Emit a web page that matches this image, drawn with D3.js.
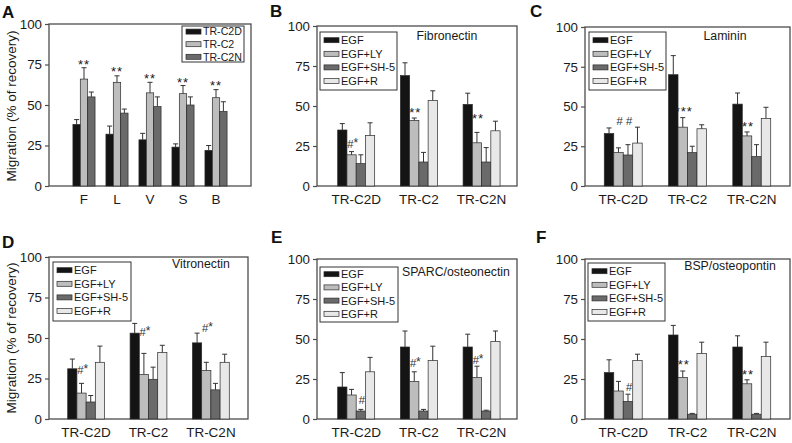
<!DOCTYPE html>
<html><head><meta charset="utf-8">
<script src="https://cdn.jsdelivr.net/npm/d3@7"></script>
<style>
body{margin:0;background:#fff}
svg{display:block}
text{font-family:"Liberation Sans",Arial,Helvetica,sans-serif}
</style>
</head><body>
<svg id="chart" width="792" height="443"></svg>
<script>
// ---------------- DATA ----------------
const matrices   = ["F","L","V","S","B"];
const cellLines  = ["TR-C2D","TR-C2","TR-C2N"];
const treatments = ["EGF","EGF+LY","EGF+SH-5","EGF+R"];
const yTicks     = [0,25,50,75,100];
const yLabel     = "Migration (% of recovery)";

// Panel A — migration on each matrix, per cell line (mean, SD)
const aC2D     = [38,32,28.5,24,22];
const aC2DErr  = [3,5,4,2,3];
const aC2      = [66,64,57.5,57,54.5];
const aC2Err   = [7,4,6.5,5,5];
const aC2N     = [55,45,49,50,46];
const aC2NErr  = [3,2.5,6,5,6];
const aMarks   = ["**","**","**","**","**"];   // over TR-C2
const aMarkAt  = [77,72.5,68.5,66,64];

// Panel B — Fibronectin (per cell line TR-C2D, TR-C2, TR-C2N)
const bEGF = [35,69,51],     bEGFErr = [4,8,7];
const bLY  = [19.5,41,27],   bLYErr  = [2,1.5,6.5];
const bSH5 = [14,15,15],     bSH5Err = [5.5,6,9];
const bR   = [31.5,53.5,34.5], bRErr = [8,6,6];

// Panel C — Laminin
const cEGF = [33,70,51.5],   cEGFErr = [3.5,12,7];
const cLY  = [21,37,31.5],   cLYErr  = [3,6,2.5];
const cSH5 = [19.5,21,18.5], cSH5Err = [6.5,4,7.5];
const cR   = [27,36,42.5],   cRErr   = [10,2.5,7];

// Panel D — Vitronectin
const dEGF = [31,53,47],     dEGFErr = [6,6,6];
const dLY  = [16,27.5,30],   dLYErr  = [6,13,5];
const dSH5 = [10.5,24.5,18], dSH5Err = [4,7.5,4];
const dR   = [35,41,35],     dRErr   = [10,4.5,5];

// Panel E — SPARC/osteonectin
const eEGF = [20,45,45],     eEGFErr = [9,10,8];
const eLY  = [15,23.5,26],   eLYErr  = [3.5,6,7];
const eSH5 = [5,5,5],        eSH5Err = [1,1,0.5];
const eR   = [29.5,36.5,48.5], eRErr = [9,9,6.5];

// Panel F — BSP/osteopontin
const fEGF = [29,52.5,45],   fEGFErr = [8,6,7];
const fLY  = [17.5,26,22],   fLYErr  = [6,4,2.5];
const fSH5 = [11,3,3],       fSH5Err = [4.5,0.5,0.5];
const fR   = [36.5,41,39],   fRErr   = [4,7,9];

// significance marks: [cell line, treatment, text, value at text centre]
const bMarks = [["TR-C2D","EGF+LY","#*",26],["TR-C2","EGF+LY","**",48],["TR-C2N","EGF+LY","**",44]];
const cMarks = [["TR-C2D","EGF+LY","#",41],["TR-C2D","EGF+SH-5","#",41],["TR-C2","EGF+LY","***",49],["TR-C2N","EGF+LY","**",39]];
const dMarks = [["TR-C2D","EGF+LY","#*",30],["TR-C2","EGF+LY","#*",54],["TR-C2N","EGF+LY","#*",56]];
const eMarks = [["TR-C2D","EGF+SH-5","#",12],["TR-C2","EGF+LY","#*",35],["TR-C2N","EGF+LY","#*",37]];
const fMarks = [["TR-C2D","EGF+SH-5","#",20],["TR-C2","EGF+LY","**",36],["TR-C2N","EGF+LY","**",29.5]];

const titles = {B:"Fibronectin",C:"Laminin",D:"Vitronectin",E:"SPARC/osteonectin",F:"BSP/osteopontin"};

// ---------------- STYLE / LAYOUT ----------------
const fillsA = {"TR-C2D":"#141414","TR-C2":"#bdbdbd","TR-C2N":"#6a6a6a"};
const fillsT = {"EGF":"#141414","EGF+LY":"#bdbdbd","EGF+SH-5":"#6a6a6a","EGF+R":"#e8e8e8"};

const lgBig = {fs:11,first:8.2,row:13.6};
const L = {
  A:{l:49,r:251,t:24,b:186,letter:[2,18],ylab:[11,106],lg:{x:182,y:26,w:62,h:36,fs:10.6,first:5.6,row:12.6},pi:0.33,po:0.725,align:0.5},
  B:{l:317,r:517,t:26,b:186,letter:[270,17],title:[447,40],lg:Object.assign({x:320,y:32,w:77,h:58},lgBig),pi:0.41,po:0.3,align:0.55},
  C:{l:585,r:790,t:27,b:186,letter:[530,17],title:[725,40],lg:Object.assign({x:589,y:32,w:77,h:58},lgBig),pi:0.41,po:0.3,align:0.5},
  D:{l:49,r:248,t:257,b:419,letter:[2,248],ylab:[11,338],title:[201,268],lg:Object.assign({x:53,y:262,w:78,h:59},lgBig),pi:0.41,po:0.3,align:0.5},
  E:{l:317,r:517,t:259,b:419,letter:[271,243],title:[456,276],lg:Object.assign({x:320,y:267,w:78,h:55},lgBig,{first:7.2,row:13.2}),pi:0.41,po:0.3,align:0.55},
  F:{l:585,r:790,t:259,b:419,letter:[536,243],title:[730,270],lg:Object.assign({x:588,y:263,w:77,h:58},lgBig),pi:0.41,po:0.3,align:0.5}
};

const svg = d3.select("#chart");

function frameAndAxes(g, P, y, x0, xLabelSize){
  g.append("rect").attr("x",P.l).attr("y",P.t).attr("width",P.r-P.l).attr("height",P.b-P.t)
    .attr("fill","none").attr("stroke","#4d4d4d").attr("stroke-width",1.3);
  const ya = g.append("g").attr("transform",`translate(${P.l},0)`)
    .call(d3.axisLeft(y).tickValues(yTicks).tickSize(4).tickPadding(3));
  ya.select(".domain").remove();
  ya.selectAll("line").attr("stroke","#4d4d4d").attr("stroke-width",1.2);
  ya.selectAll("text").attr("font-size",13.3).attr("fill","#1a1a1a").style("font-family","Liberation Sans, Arial, sans-serif");
  const xa = g.append("g").attr("transform",`translate(0,${P.b})`)
    .call(d3.axisBottom(x0).tickSize(0).tickPadding(8));
  xa.select(".domain").remove();
  xa.selectAll("text").attr("font-size",xLabelSize).attr("fill","#1a1a1a").style("font-family","Liberation Sans, Arial, sans-serif");
}

function drawBars(g, rows, x0, x1, y){
  g.selectAll(null).data(rows).join("rect")
    .attr("x",d=>x0(d.grp)+x1(d.key)).attr("width",x1.bandwidth())
    .attr("y",d=>y(d.v)).attr("height",d=>y(0)-y(d.v))
    .attr("fill",d=>d.fill).attr("stroke","#2a2a2a").attr("stroke-width",0.7);
  const eb = g.selectAll(null).data(rows).join("g");
  const cx = d=>x0(d.grp)+x1(d.key)+x1.bandwidth()/2;
  eb.append("line")
    .attr("x1",cx).attr("x2",cx)
    .attr("y1",d=>y(d.v)).attr("y2",d=>y(d.v+d.e)).attr("stroke","#333").attr("stroke-width",1);
  eb.append("line")
    .attr("x1",d=>cx(d)-2.5).attr("x2",d=>cx(d)+2.5)
    .attr("y1",d=>y(d.v+d.e)).attr("y2",d=>y(d.v+d.e)).attr("stroke","#333").attr("stroke-width",1);
}

function drawMark(g, x, yc, txt){
  if (/^\*+$/.test(txt)){
    g.append("text").attr("x",x).attr("y",yc+7.5).attr("text-anchor","middle")
      .attr("font-size",13).attr("fill","#1a1a1a").attr("letter-spacing",1).text(txt);
  } else if (txt === "#*"){
    const t = g.append("text").attr("x",x).attr("y",yc+4).attr("text-anchor","middle")
      .attr("font-size",11.5).attr("fill","#333");
    t.append("tspan").text("#").attr("font-style","italic");
    t.append("tspan").text("*").attr("font-size",12).attr("dy",-1);
  } else {
    g.append("text").attr("x",x).attr("y",yc+4).attr("text-anchor","middle")
      .attr("font-size",11.5).attr("font-style","italic").attr("fill","#333").text(txt);
  }
}

function drawLegend(g, P, keys, fills){
  const lg = P.lg;
  g.append("rect").attr("x",lg.x).attr("y",lg.y).attr("width",lg.w).attr("height",lg.h)
    .attr("fill","#fff").attr("stroke","#333").attr("stroke-width",1);
  keys.forEach((k,i)=>{
    const cy = lg.y+lg.first+lg.row*i;
    g.append("rect").attr("x",lg.x+4).attr("y",cy-2.5).attr("width",15).attr("height",5)
      .attr("fill",fills[k]).attr("stroke","#2a2a2a").attr("stroke-width",0.7);
    g.append("text").attr("x",lg.x+21).attr("y",cy+lg.fs*0.36).attr("font-size",lg.fs).attr("fill","#1a1a1a").text(k);
  });
}

function letter(P, s){
  svg.append("text").attr("x",P.letter[0]).attr("y",P.letter[1]).attr("font-size",17)
    .attr("font-weight","bold").attr("fill","#111").text(s);
}

function yLab(P){
  svg.append("text").attr("transform",`translate(${P.ylab[0]},${P.ylab[1]}) rotate(-90)`)
    .attr("text-anchor","middle").attr("dominant-baseline","central")
    .attr("font-size",13.5).attr("fill","#1a1a1a").text(yLabel);
}

// ---------- Panel A ----------
(function(){
  const P = L.A, g = svg.append("g");
  const y = d3.scaleLinear().domain([0,100]).range([P.b,P.t]);
  const x0 = d3.scaleBand().domain(matrices).range([P.l,P.r]).paddingInner(P.pi).paddingOuter(P.po).align(P.align);
  const x1 = d3.scaleBand().domain(cellLines).range([0,x0.bandwidth()]);
  const series = {"TR-C2D":[aC2D,aC2DErr],"TR-C2":[aC2,aC2Err],"TR-C2N":[aC2N,aC2NErr]};
  const rows = [];
  matrices.forEach((m,i)=>cellLines.forEach(c=>rows.push({grp:m,key:c,v:series[c][0][i],e:series[c][1][i],fill:fillsA[c]})));
  frameAndAxes(g,P,y,x0,13.5);
  drawBars(g,rows,x0,x1,y);
  matrices.forEach((m,i)=>drawMark(g, x0(m)+x1("TR-C2")+x1.bandwidth()/2, y(aMarkAt[i]), aMarks[i]));
  drawLegend(g,P,cellLines,fillsA);
  letter(P,"A"); yLab(P);
})();

// ---------- Panels B–F ----------
const panelData = {
  B:{v:[bEGF,bLY,bSH5,bR],e:[bEGFErr,bLYErr,bSH5Err,bRErr],m:bMarks},
  C:{v:[cEGF,cLY,cSH5,cR],e:[cEGFErr,cLYErr,cSH5Err,cRErr],m:cMarks},
  D:{v:[dEGF,dLY,dSH5,dR],e:[dEGFErr,dLYErr,dSH5Err,dRErr],m:dMarks},
  E:{v:[eEGF,eLY,eSH5,eR],e:[eEGFErr,eLYErr,eSH5Err,eRErr],m:eMarks},
  F:{v:[fEGF,fLY,fSH5,fR],e:[fEGFErr,fLYErr,fSH5Err,fRErr],m:fMarks}
};

["B","C","D","E","F"].forEach(id=>{
  const P = L[id], D = panelData[id], g = svg.append("g");
  const y = d3.scaleLinear().domain([0,100]).range([P.b,P.t]);
  const x0 = d3.scaleBand().domain(cellLines).range([P.l,P.r]).paddingInner(P.pi).paddingOuter(P.po).align(P.align);
  const x1 = d3.scaleBand().domain(treatments).range([0,x0.bandwidth()]);
  const rows = [];
  cellLines.forEach((c,i)=>treatments.forEach((t,j)=>rows.push({grp:c,key:t,v:D.v[j][i],e:D.e[j][i],fill:fillsT[t]})));
  frameAndAxes(g,P,y,x0,13.5);
  drawBars(g,rows,x0,x1,y);
  D.m.forEach(([c,t,txt,at])=>drawMark(g, x0(c)+x1(t)+x1.bandwidth()/2+1, y(at), txt));
  drawLegend(g,P,treatments,fillsT);
  g.append("text").attr("x",P.title[0]).attr("y",P.title[1]).attr("text-anchor","middle")
    .attr("font-size",12.3).attr("fill","#1a1a1a").text(titles[id]);
  letter(P,id);
  if (P.ylab) yLab(P);
});
</script>
</body></html>
